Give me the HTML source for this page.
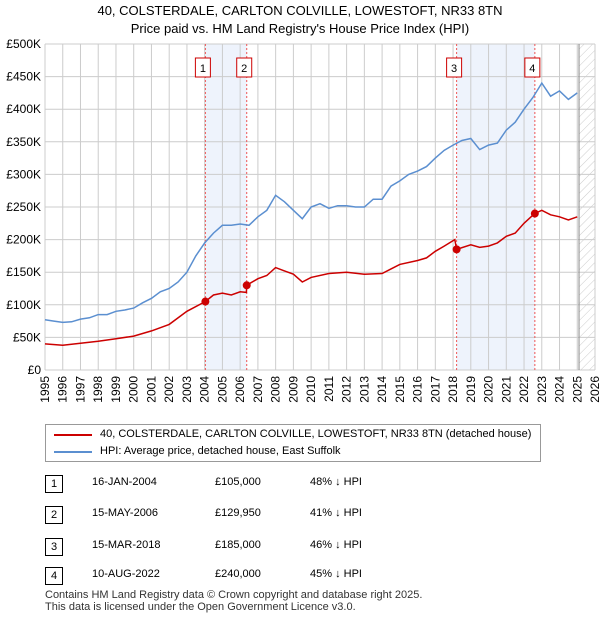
<!DOCTYPE html>
<html><head><meta charset="utf-8"><style>
body{margin:0;width:600px;height:620px;background:#fff;font-family:"Liberation Sans",sans-serif;color:#000;position:relative;overflow:hidden}
.t{position:absolute;font-size:12px;white-space:nowrap}
.box{position:absolute;border:1px solid #c00;width:16px;height:16px;font-size:11px;text-align:center;line-height:16px}
</style></head><body>
<div class="t" style="left:0;width:600px;text-align:center;top:3px;font-size:13px">40, COLSTERDALE, CARLTON COLVILLE, LOWESTOFT, NR33 8TN</div>
<div class="t" style="left:0;width:600px;text-align:center;top:21px;font-size:13px">Price paid vs. HM Land Registry's House Price Index (HPI)</div>
<svg id="c" width="600" height="420" style="position:absolute;left:0;top:0"></svg>
<div style="position:absolute;left:45px;top:424px;width:494px;height:36px;border:1px solid #999">
<div style="position:absolute;left:8px;top:9px;width:38px;height:2px;background:#c00"></div>
<div class="t" style="left:54px;top:3px;font-size:11px">40, COLSTERDALE, CARLTON COLVILLE, LOWESTOFT, NR33 8TN (detached house)</div>
<div style="position:absolute;left:8px;top:26px;width:38px;height:2px;background:#5b8fd0"></div>
<div class="t" style="left:54px;top:20px;font-size:11px">HPI: Average price, detached house, East Suffolk</div>
</div>
<div id="tbl"></div>
<div class="t" style="left:45px;top:589px;font-size:11px;color:#333;line-height:12px">Contains HM Land Registry data © Crown copyright and database right 2025.<br>This data is licensed under the Open Government Licence v3.0.</div>
<script>
const hpiYears=[1995,1995.5,1996,1996.5,1997,1997.5,1998,1998.5,1999,1999.5,2000,2000.5,2001,2001.5,2002,2002.5,2003,2003.5,2004,2004.5,2005,2005.5,2006,2006.5,2007,2007.5,2008,2008.5,2009,2009.5,2010,2010.5,2011,2011.5,2012,2012.5,2013,2013.5,2014,2014.5,2015,2015.5,2016,2016.5,2017,2017.5,2018,2018.5,2019,2019.5,2020,2020.5,2021,2021.5,2022,2022.5,2023,2023.5,2024,2024.5,2025];
const hpiValues=[77,75,73,74,78,80,85,85,90,92,95,103,110,120,125,135,150,175,195,210,222,222,224,222,235,245,268,258,245,232,250,255,248,252,252,250,250,262,262,282,290,300,305,312,325,337,345,352,355,338,345,348,368,380,400,418,440,420,428,415,425];
const ppYears=[1995,1996,1997,1998,1999,2000,2001,2002,2003,2004.04,2004.5,2005,2005.5,2006,2006.35,2006.37,2007,2007.5,2008,2008.5,2009,2009.5,2010,2011,2012,2013,2014,2014.5,2015,2016,2016.5,2017,2017.5,2018.1,2018.2,2019,2019.5,2020,2020.5,2021,2021.5,2022,2022.6,2023,2023.5,2024,2024.5,2025];
const ppValues=[40,38,41,44,48,52,60,70,90,105,115,118,115,120,119,130,140,145,157,152,147,135,142,148,150,147,148,155,162,168,172,182,190,200,185,192,188,190,195,205,210,225,240,245,238,235,230,235];
const saleYears=[2004.04,2006.37,2018.2,2022.61];
const saleValues=[105,129.95,185,240];
const saleLabels=["1","2","3","4"];
const yTicks=[0,50,100,150,200,250,300,350,400,450,500];
const yTickLabels=["£0","£50K","£100K","£150K","£200K","£250K","£300K","£350K","£400K","£450K","£500K"];
const tableDates=["16-JAN-2004","15-MAY-2006","15-MAR-2018","10-AUG-2022"];
const tablePrices=["£105,000","£129,950","£185,000","£240,000"];
const tablePct=["48% ↓ HPI","41% ↓ HPI","46% ↓ HPI","45% ↓ HPI"];

const X0=45,X1=595,Y0=370,Y1=44;
const xs=y=>X0+(y-1995)*(X1-X0)/31;
const ys=v=>Y0-v*(Y0-Y1)/500;
const svg=document.getElementById('c');const NS='http://www.w3.org/2000/svg';
function mk(t,a,p){const e=document.createElementNS(NS,t);for(const k in a)e.setAttribute(k,a[k]);(p||svg).appendChild(e);return e;}
const sh1=mk('rect',{x:xs(saleYears[0]),y:Y1,width:xs(saleYears[1])-xs(saleYears[0]),height:Y0-Y1,fill:'#eef3fc'});


const sh2=mk('rect',{x:xs(saleYears[2]),y:Y1,width:xs(saleYears[3])-xs(saleYears[2]),height:Y0-Y1,fill:'#eef3fc'});


const defs=mk('defs',{});
const pat=mk('pattern',{id:'h',width:6,height:6,patternUnits:'userSpaceOnUse',patternTransform:'rotate(45)'},defs);
mk('line',{x1:0,y1:0,x2:0,y2:6,stroke:'#ccc','stroke-width':1},pat);
const hr=mk('rect',{x:xs(2025.1),y:Y1,width:X1-xs(2025.1),height:Y0-Y1,fill:'url(#h)'});


for(let y=1995;y<=2026;y++){mk('line',{x1:xs(y),x2:xs(y),y1:Y1,y2:Y0,stroke:'#ccc'});
const t=mk('text',{x:0,y:0,'font-size':12,transform:`translate(${xs(y)+4},${Y0+6}) rotate(-90)`,'text-anchor':'end','font-family':'Liberation Sans'});t.textContent=y;

}
yTicks.forEach((v,i)=>{mk('line',{x1:X0,x2:X1,y1:ys(v),y2:ys(v),stroke:'#ccc'});
const t=mk('text',{x:X0-4,y:ys(v)+4,'font-size':12,'text-anchor':'end','font-family':'Liberation Sans'});t.textContent=yTickLabels[i];

});
mk('line',{x1:xs(2025.1),x2:xs(2025.1),y1:Y1,y2:Y0,stroke:'#888'});
saleYears.forEach((y,i)=>{mk('line',{x1:xs(y),x2:xs(y),y1:Y1,y2:Y0,stroke:'#e55','stroke-dasharray':'2,2'});
const g=mk('g',{});


mk('rect',{x:xs(y)-10,y:58,width:15,height:19,fill:'#fff',stroke:'#c00'},g);
const t=mk('text',{x:xs(y)-2.5,y:72,'font-size':11,'text-anchor':'middle','font-family':'Liberation Sans'},g);t.textContent=saleLabels[i];});
const pts=(a,b)=>a.map((y,i)=>xs(y).toFixed(1)+','+ys(b[i]).toFixed(1)).join(' ');
const l1=mk('polyline',{points:pts(hpiYears,hpiValues),fill:'none',stroke:'#5b8fd0','stroke-width':1.5});


const l2=mk('polyline',{points:pts(ppYears,ppValues),fill:'none',stroke:'#c00','stroke-width':1.5});


saleYears.forEach((y,i)=>{const c=mk('circle',{cx:xs(y),cy:ys(saleValues[i]),r:4,fill:'#c00'});

});
const tb=document.getElementById('tbl');const rowY=[483,514,546,575];
saleLabels.forEach((l,i)=>{const r=document.createElement('div');


r.innerHTML=`<div class="box" style="left:45px;top:${rowY[i]-8}px;border-color:#000">${l}</div><div class="t" style="left:92px;top:${rowY[i]-7}px;font-size:11px">${tableDates[i]}</div><div class="t" style="left:215px;top:${rowY[i]-7}px;font-size:11px">${tablePrices[i]}</div><div class="t" style="left:310px;top:${rowY[i]-7}px;font-size:11px">${tablePct[i]}</div>`;
tb.appendChild(r);});
</script>
</body></html>
